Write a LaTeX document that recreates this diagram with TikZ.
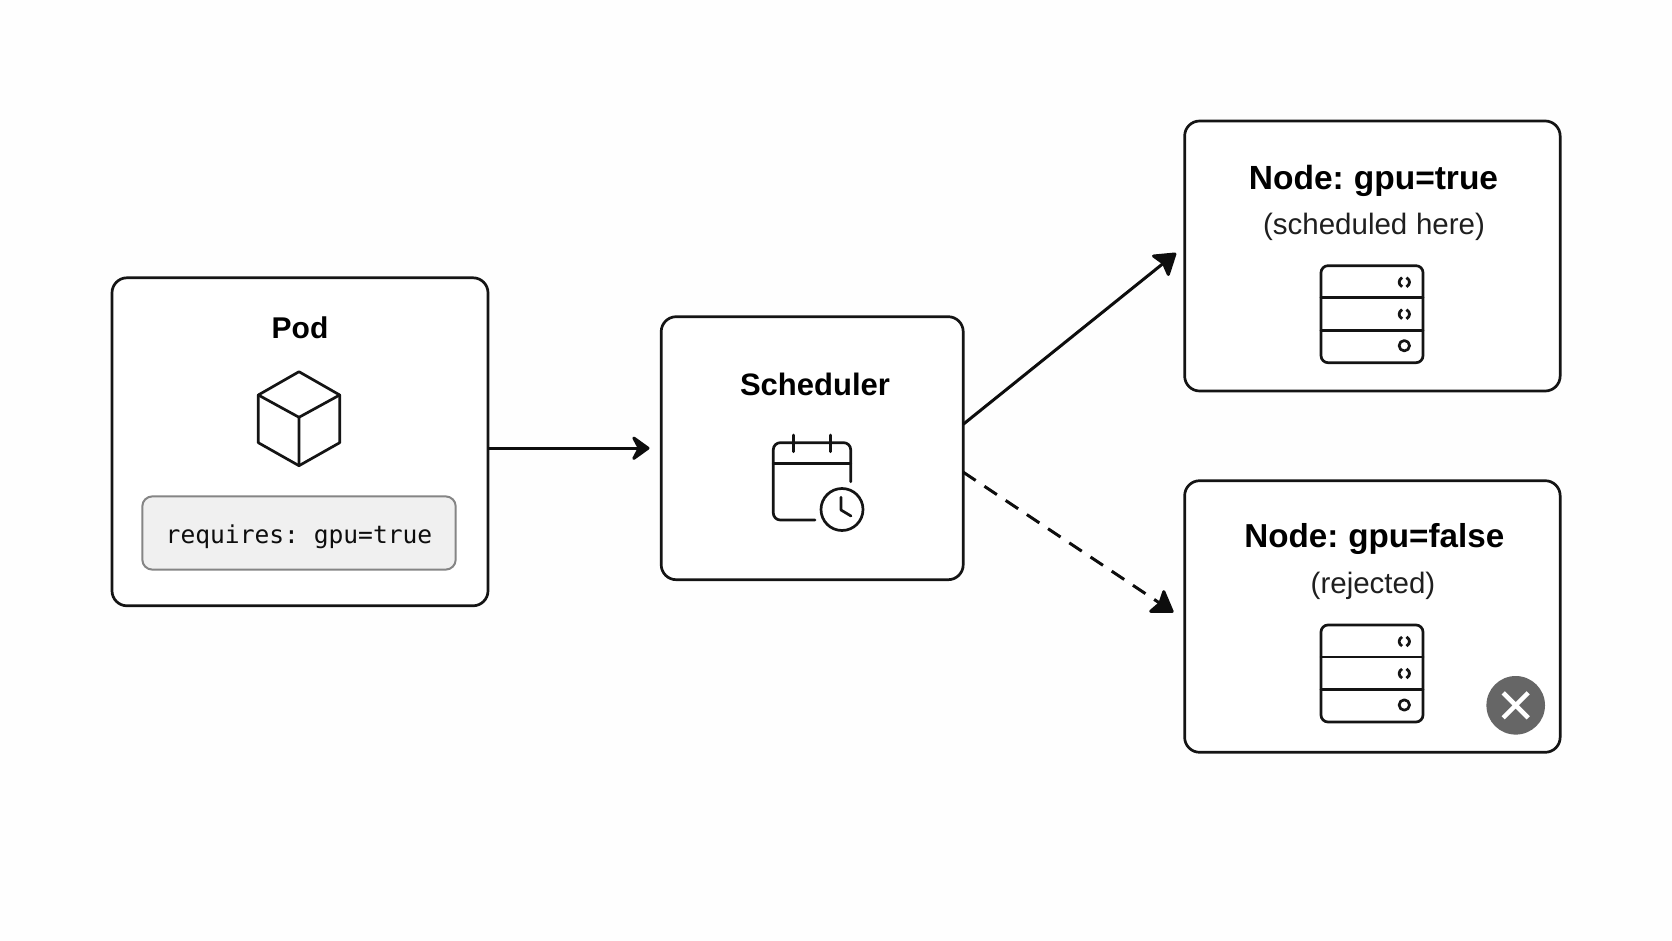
\documentclass[tikz,border=0pt]{standalone}
\usepackage{fontspec}
\setmainfont[WordSpace=0.75]{Liberation Sans}
\setmonofont{DejaVu Sans Mono}
\usetikzlibrary{arrows.meta}
\newcommand{\fsz}[1]{\fontsize{#1}{#1}\selectfont}
\tikzset{
  x=1pt,y=-1pt,
  box/.style={draw=black!92,line width=2.7pt,rounded corners=15pt,fill=white,inner sep=0pt,outer sep=0pt},
  ico/.style={draw=black!92,line width=2.7pt,line join=round,line cap=round},
  titlet/.style={font=\bfseries\fsz{33.5},text=black,inner sep=0pt,anchor=base},
  subt/.style={font=\fsz{29.5},text=black!88,inner sep=0pt,anchor=base},
  conn/.style={draw=black!95,line width=3pt},
  headA/.style={-{Stealth[length=21pt,width=30pt,inset=8pt,round]}},
  headB/.style={-{Stealth[length=23pt,width=30pt,inset=4pt,round]}},
}
\newcommand{\serverico}[2]{% x, y
  \begin{scope}[shift={(#1,#2)}]
    \draw[ico,rounded corners=7pt] (0,0) rectangle (102,97);
    \draw[ico] (0,32) -- (102,32) (0,64.5) -- (102,64.5);
    \foreach \cy in {16.5,48.5}{
      \draw[ico,line cap=butt,line width=2.8pt] (83.3-2.2,\cy-4.6) .. controls (83.3-6.2,\cy-2) and (83.3-6.2,\cy+2) .. (83.3-2.2,\cy+4.6);
      \draw[ico,line cap=butt,line width=2.8pt] (83.3+2.2,\cy-4.6) .. controls (83.3+6.2,\cy-2) and (83.3+6.2,\cy+2) .. (83.3+2.2,\cy+4.6);
    }
    \draw[ico] (83.3,80) circle[radius=5.2];
  \end{scope}
}
\begin{document}
\begin{tikzpicture}
\useasboundingbox (0,0) rectangle (1672,941);
\fill[white!99.6!black] (0,0) rectangle (1672,941);

% boxes
\node[box,minimum width=376pt,minimum height=328pt] (pod) at (300,441.8) {};
\node[box,minimum width=302pt,minimum height=263pt] (sched) at (812.2,448.2) {};
\node[box,minimum width=375.5pt,minimum height=270pt] (ntrue) at (1372.4,256) {};
\node[box,minimum width=375.5pt,minimum height=271.6pt] (nfalse) at (1372.4,616.5) {};

% pod contents
\node[titlet,font=\bfseries\fsz{30}] (podt) at (300,338) {Pod};
\draw[ico] (299,371.7) -- (339.7,395) -- (339.7,442.7) -- (299,465.7) -- (258.3,442.7) -- (258.3,395) -- cycle;
\draw[ico] (258.3,395) -- (299,417.3) -- (339.7,395) (299,417.3) -- (299,465.7);
\node[draw=black!48,line width=2pt,fill=black!6,rounded corners=10pt,minimum width=313.4pt,minimum height=73.2pt,inner sep=0pt] (req) at (299,533) {};
\node[font=\ttfamily\fsz{24.6},text=black!95,inner sep=0pt,anchor=base] (reqt) at (299,543) {requires: gpu=true};

% scheduler contents
\node[titlet,font=\bfseries\fsz{31}] (scht) at (815,395) {Scheduler};
\draw[ico] (850.7,481.7) -- (850.7,449.7) arc (0:-90:7) -- (780.3,442.7) arc (-90:-180:7) -- (773.3,513) arc (180:90:7) -- (815,520);
\draw[ico] (773.3,463.3) -- (850.7,463.3);
\draw[ico] (793.3,435) -- (793.3,451.7) (830.3,435) -- (830.3,451.7);
\draw[ico] (842,509.5) circle[radius=21];
\draw[ico] (841,497.3) -- (841,510) -- (851,516);

% node: gpu=true
\node[titlet] (tt) at (1373.5,190) {Node: gpu=true};
\node[subt] (ts) at (1374,235) {(scheduled\hspace{2.5pt} here)};
\serverico{1321}{265.7}

% node: gpu=false
\node[titlet,font=\bfseries\fsz{33.2}] (ft) at (1374.3,547) {Node: gpu=false};
\node[subt] (fs) at (1373,593) {(rejected)};
\serverico{1321}{625}
\node[circle,fill=black!60,minimum size=58.6pt,inner sep=0pt] (rej) at (1515.7,705.3) {};
\draw[white,line width=4.5pt] (rej.center) ++(-12.5,-12.5) -- ++(25,25) (rej.center) ++(12.5,-12.5) -- ++(-25,25);

% connectors
\draw[conn,headA] (pod.east |- sched.west) -- ([xshift=-11.7pt]sched.west);
\draw[conn,headB,shorten >=11pt] (sched.9.7) -- (ntrue.177.1);
\draw[conn,headB,shorten >=13.5pt,dash pattern=on 15pt off 10.5pt] (sched.-9.6) -- (nfalse.181.6);
\end{tikzpicture}
\end{document}
